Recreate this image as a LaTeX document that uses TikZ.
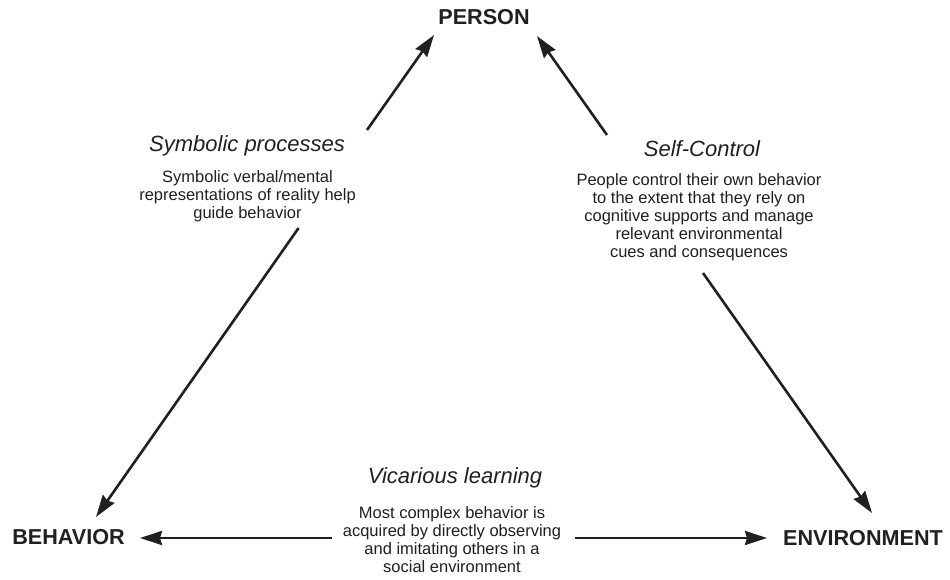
\documentclass[tikz,border=0pt]{standalone}
\usepackage{fontspec}
\setmainfont{Liberation Sans}
\usetikzlibrary{arrows.meta}
\definecolor{ink}{HTML}{231F20}
\begin{document}
\begin{tikzpicture}[x=1pt,y=-1pt,
  corner/.style={font=\fontsize{21.6}{24}\selectfont\bfseries, inner sep=0pt, anchor=base, text=ink},
  ttl/.style={font=\fontsize{22}{24}\selectfont\itshape, inner sep=0pt, anchor=base, text=ink},
  body/.style={font=\fontsize{16.5}{17.8}\selectfont, align=center, inner sep=0pt, anchor=base, text=ink},
  conn/.style={draw=ink, line width=2.6pt, -{Stealth[length=22pt,width=14pt,inset=2pt]}}]
\useasboundingbox (0,0) rectangle (950,580);
\fill[white] (0,0) rectangle (950,580);

\node[corner] (person) at (484,25) {PERSON};
\node[corner] (behavior) at (68.5,544) {BEHAVIOR};
\node[corner] (environment) at (863,545) {ENVIRONMENT};

\node[ttl] (sym) at (247,152) {Symbolic processes};
\node[body] (symtext) at (247.5,218.5) {Symbolic verbal/mental\\representations of reality help\\guide behavior};

\node[ttl] (self) at (702,157) {Self-Control};
\node[body] (selftext) at (699,257) {People control their own behavior\\to the extent that they rely on\\cognitive supports and manage\\relevant environmental\\cues and consequences};

\node[ttl] (vic) at (455,483) {Vicarious learning};
\node[body] (victext) at (452,572) {Most complex behavior is\\acquired by directly observing\\and imitating others in a\\social environment};

\coordinate (s1) at (367,130); \coordinate (t1) at (434,35);
\coordinate (s2) at (298.6,228); \coordinate (t2) at (96,517);
\coordinate (s3) at (607,135); \coordinate (t3) at (537,36);
\coordinate (s4) at (703,273); \coordinate (t4) at (872,513);
\coordinate (s5) at (332,538); \coordinate (t5) at (140,538);
\coordinate (s6) at (575,538); \coordinate (t6) at (767,538);

\draw[conn] (s1) -- (t1);
\draw[conn] (s2) -- (t2);
\draw[conn] (s3) -- (t3);
\draw[conn] (s4) -- (t4);
\draw[conn] (s5) -- (t5);
\draw[conn] (s6) -- (t6);
\end{tikzpicture}
\end{document}
